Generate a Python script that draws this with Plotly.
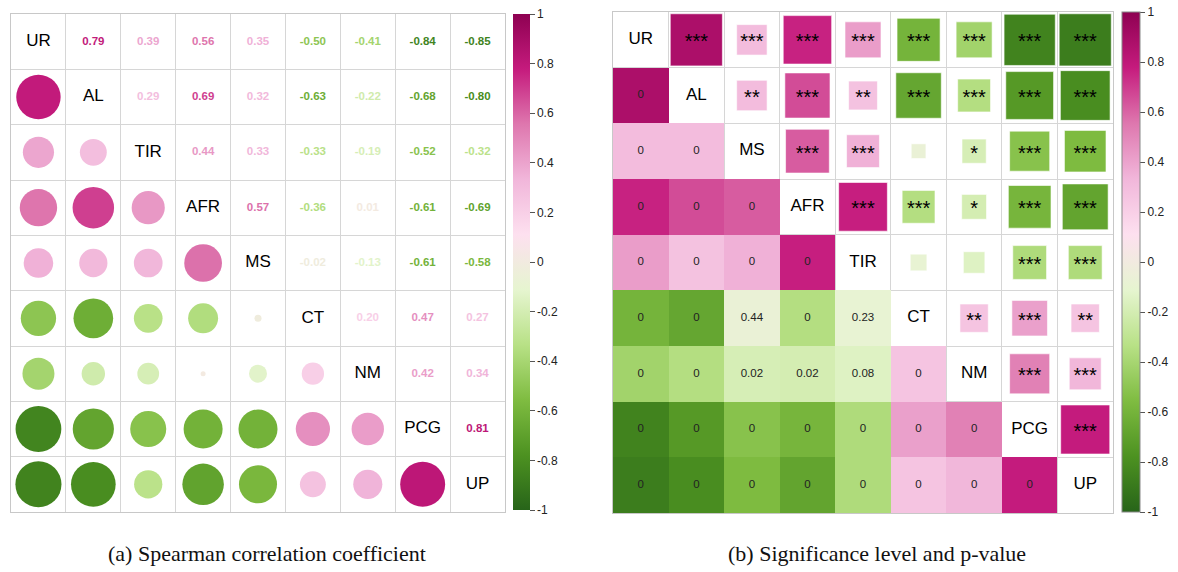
import plotly.graph_objects as go
import numpy as np

W, H = 1178, 572

# ---------------- data ----------------
L_VARS = ["UR", "AL", "TIR", "AFR", "MS", "CT", "NM", "PCG", "UP"]
# upper triangle rows (Spearman r), row i lists r(i, j) for j > i
L_UR = [0.79, 0.39, 0.56, 0.35, -0.50, -0.41, -0.84, -0.85]
L_AL = [0.29, 0.69, 0.32, -0.63, -0.22, -0.68, -0.80]
L_TIR = [0.44, 0.33, -0.33, -0.19, -0.52, -0.32]
L_AFR = [0.57, -0.36, 0.01, -0.61, -0.69]
L_MS = [-0.02, -0.13, -0.61, -0.58]
L_CT = [0.20, 0.47, 0.27]
L_NM = [0.42, 0.34]
L_PCG = [0.81]

R_VARS = ["UR", "AL", "MS", "AFR", "TIR", "CT", "NM", "PCG", "UP"]
R_UR = [0.88, 0.30, 0.76, 0.42, -0.60, -0.42, -0.85, -0.88]
R_AL = [0.30, 0.66, 0.27, -0.67, -0.35, -0.74, -0.80]
R_MS = [0.62, 0.35, -0.07, -0.19, -0.52, -0.56]
R_AFR = [0.77, -0.35, -0.20, -0.59, -0.68]
R_TIR = [-0.09, -0.15, -0.37, -0.37]
R_CT = [0.26, 0.41, 0.26]
R_NM = [0.52, 0.33]
R_PCG = [0.78]

P_UR = [0.000, 0.000, 0.000, 0.000, 0.000, 0.000, 0.000, 0.000]
P_AL = [0.003, 0.000, 0.004, 0.000, 0.000, 0.000, 0.000]
P_MS = [0.000, 0.000, 0.44, 0.02, 0.000, 0.000]
P_AFR = [0.000, 0.000, 0.02, 0.000, 0.000]
P_TIR = [0.23, 0.08, 0.000, 0.000]
P_CT = [0.004, 0.000, 0.003]
P_NM = [0.000, 0.000]
P_PCG = [0.000]

CBAR_TICKS = [1, 0.8, 0.6, 0.4, 0.2, 0, -0.2, -0.4, -0.6, -0.8, -1]
CBAR_LABELS = ["1", "0.8", "0.6", "0.4", "0.2", "0", "-0.2", "-0.4", "-0.6", "-0.8", "-1"]

PIYG = ["#276419", "#4D9221", "#7FBC41", "#B8E186", "#E6F5D0",
        "#FDE0EF", "#F1B6DA", "#DE77AE", "#C51B7D", "#8E0152"]
CSCALE = [[i / (len(PIYG) - 1), c] for i, c in enumerate(PIYG)]


def full_matrix(rows, n):
    m = np.eye(n)
    for i, row in enumerate(rows):
        for k, v in enumerate(row):
            j = i + 1 + k
            m[i, j] = v
            m[j, i] = v
    return m


def color_at(v):
    t = (v + 1) / 2 * (len(PIYG) - 1)
    i = int(min(max(np.floor(t), 0), len(PIYG) - 2))
    f = t - i
    a = [int(PIYG[i][k:k + 2], 16) for k in (1, 3, 5)]
    b = [int(PIYG[i + 1][k:k + 2], 16) for k in (1, 3, 5)]
    c = [round(a[k] + (b[k] - a[k]) * f) for k in range(3)]
    return "rgb(%d,%d,%d)" % tuple(c)


def px(x):
    return x / W


def py(y):
    return (H - y) / H


n = 9
LM = full_matrix([L_UR, L_AL, L_TIR, L_AFR, L_MS, L_CT, L_NM, L_PCG], n)
RM = full_matrix([R_UR, R_AL, R_MS, R_AFR, R_TIR, R_CT, R_NM, R_PCG], n)
PM = full_matrix([P_UR, P_AL, P_MS, P_AFR, P_TIR, P_CT, P_NM, P_PCG], n)

# ---------------- layout geometry ----------------
LX = [px(11), px(505)]
LY = [py(512), py(14)]
RX = [px(613), px(1113)]
RY = [py(513), py(12)]
l_cell = (LX[1] - LX[0]) * W / n
r_cell = (RX[1] - RX[0]) * W / n

fig = go.Figure()

FONT = "Liberation Sans, Arial, sans-serif"

# ---------------- left panel ----------------
cx, cy, cc, cs = [], [], [], []
tx, ty, tt, tc = [], [], [], []
for i in range(n):
    for j in range(n):
        v = LM[i, j]
        if i > j:
            cx.append(j); cy.append(i); cc.append(v)
            cs.append(np.sqrt(abs(v)) * l_cell * 0.91)
        elif i < j:
            tx.append(j); ty.append(i); tt.append("%.2f" % v); tc.append(color_at(v))

fig.add_trace(go.Scatter(
    x=cx, y=cy, mode="markers", xaxis="x", yaxis="y",
    marker=dict(size=cs, color=cc, colorscale=CSCALE, cmin=-1, cmax=1,
                symbol="circle", line=dict(width=0), opacity=1,
                showscale=True,
                colorbar=dict(x=px(513), xanchor="left", y=py(262), yanchor="middle",
                              len=516, lenmode="pixels", thickness=17, xpad=0, ypad=10,
                              tickvals=CBAR_TICKS, ticktext=CBAR_LABELS,
                              ticks="outside", ticklen=5, tickcolor="#555",
                              tickfont=dict(family=FONT, size=12, color="#222"),
                              outlinewidth=0)),
    hoverinfo="skip", showlegend=False))

fig.add_trace(go.Scatter(
    x=tx, y=ty, mode="text", text=tt, xaxis="x", yaxis="y",
    textfont=dict(family=FONT, size=11.5, color=tc, weight="bold"),
    hoverinfo="skip", showlegend=False))

fig.add_trace(go.Scatter(
    x=list(range(n)), y=list(range(n)), mode="text", text=L_VARS,
    xaxis="x", yaxis="y", textfont=dict(family=FONT, size=17, color="black"),
    hoverinfo="skip", showlegend=False))

# ---------------- right panel ----------------
z = [[(RM[i, j] if i > j else None) for j in range(n)] for i in range(n)]
fig.add_trace(go.Heatmap(
    z=z, x=list(range(n)), y=list(range(n)), xaxis="x2", yaxis="y2",
    colorscale=CSCALE, zmin=-1, zmax=1, hoverinfo="skip",
    colorbar=dict(x=px(1122), xanchor="left", y=py(262), yanchor="middle",
                  len=520, lenmode="pixels", thickness=18, xpad=0, ypad=10,
                  tickvals=CBAR_TICKS, ticktext=CBAR_LABELS,
                  ticks="outside", ticklen=5, tickcolor="#555",
                  tickfont=dict(family=FONT, size=12, color="#222"),
                  outlinewidth=1, outlinecolor="#888")))

sx, sy, sc, ss, st = [], [], [], [], []
px_, py_, pt_ = [], [], []
for i in range(n):
    for j in range(n):
        if i < j:
            v = RM[i, j]
            p = PM[i, j]
            sx.append(j); sy.append(i); sc.append(v)
            ss.append(np.sqrt(abs(v)) * r_cell)
            st.append("***" if p < 0.001 else "**" if p < 0.01 else "*" if p < 0.05 else "")
        elif i > j:
            p = PM[i, j]
            px_.append(j); py_.append(i)
            pt_.append(("%.2f" % p).rstrip("0").rstrip("."))

fig.add_trace(go.Scatter(
    x=sx, y=sy, mode="markers", xaxis="x2", yaxis="y2",
    marker=dict(size=ss, color=sc, colorscale=CSCALE, cmin=-1, cmax=1, opacity=1,
                symbol="square", line=dict(width=1, color="rgba(255,255,255,0.6)")),
    hoverinfo="skip", showlegend=False))

fig.add_trace(go.Scatter(
    x=sx, y=[v + 0.06 for v in sy], mode="text", text=st, textposition="middle center",
    xaxis="x2", yaxis="y2",
    textfont=dict(family=FONT, size=20, color="black"),
    hoverinfo="skip", showlegend=False))

fig.add_trace(go.Scatter(
    x=px_, y=py_, mode="text", text=pt_, xaxis="x2", yaxis="y2",
    textfont=dict(family=FONT, size=11.5, color="#222"),
    hoverinfo="skip", showlegend=False))

fig.add_trace(go.Scatter(
    x=list(range(n)), y=list(range(n)), mode="text", text=R_VARS,
    xaxis="x2", yaxis="y2", textfont=dict(family=FONT, size=17, color="black"),
    hoverinfo="skip", showlegend=False))

grid_vals = [k - 0.5 for k in range(n + 1)]
ax_common = dict(range=[-0.5, n - 0.5], tickvals=grid_vals, showticklabels=False,
                 ticks="", showgrid=True, gridcolor="#D6D6D6", gridwidth=1,
                 zeroline=False, showline=True, linecolor="#C8C8C8", linewidth=1,
                 mirror=True, fixedrange=True)
ay_common = dict(ax_common, range=[n - 0.5, -0.5])

fig.update_layout(
    width=W, height=H, margin=dict(l=0, r=0, t=0, b=0, autoexpand=False),
    paper_bgcolor="white", plot_bgcolor="white",
    xaxis=dict(ax_common, domain=LX, anchor="y"),
    yaxis=dict(ay_common, domain=LY, anchor="x"),
    xaxis2=dict(ax_common, domain=RX, anchor="y2"),
    yaxis2=dict(ay_common, domain=RY, anchor="x2"),
    annotations=[
        dict(text="(a) Spearman correlation coefficient", x=px(267), y=py(553),
             xref="paper", yref="paper", showarrow=False, xanchor="center", yanchor="middle",
             font=dict(family="Liberation Serif, Times New Roman, serif", size=22, color="#111")),
        dict(text="(b) Significance level and p-value", x=px(877), y=py(553),
             xref="paper", yref="paper", showarrow=False, xanchor="center", yanchor="middle",
             font=dict(family="Liberation Serif, Times New Roman, serif", size=22, color="#111")),
    ],
)

fig.write_html("out.html", config={"displayModeBar": False},
               post_script="document.body.style.margin='0';document.body.style.overflow='hidden';")
